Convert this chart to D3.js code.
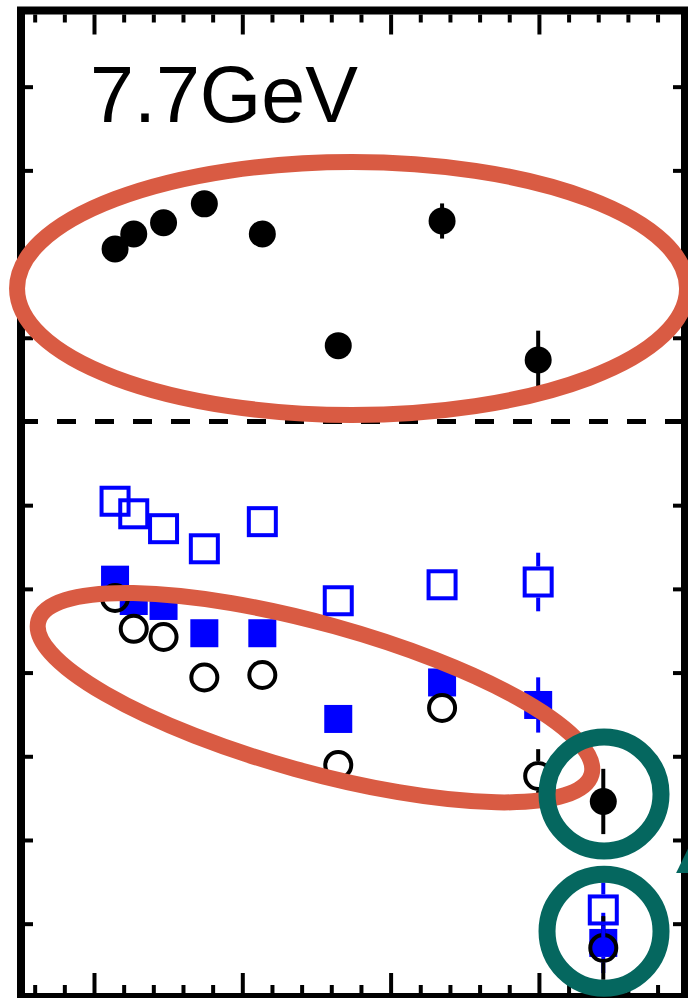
<!DOCTYPE html>
<html>
<head>
<meta charset="utf-8">
<script src="https://cdn.jsdelivr.net/npm/d3@7"></script>
<style>
  html, body { margin: 0; padding: 0; background: #fff; }
  svg { display: block; }
</style>
</head>
<body>
<div id="chart"></div>
<script>
// x positions of the 9 measurements (axis units, one major tick = 1)
const xPos = [0.142, 0.268, 0.469, 0.744, 1.135, 1.647, 2.347, 2.995, 3.434];

// four series
const filledCircle    = [2.06, 2.24, 2.375, 2.60, 2.24, 0.906, 2.395, 0.735, -4.54];
const filledCircleErr = [0, 0, 0, 0, 0, 0, 0.21, 0.35, 0.39];
const openSquare      = [-0.953, -1.103, -1.281, -1.521, -1.197, -2.142, -1.951, -1.918, -5.836];
const openSquareErr   = [0, 0, 0, 0, 0, 0, 0, 0.35, 0.33];
const filledSquare    = [-1.89, -2.145, -2.204, -2.53, -2.53, -3.554, -3.118, -3.387, -6.23];
const filledSquareErr = [0, 0, 0, 0, 0, 0, 0, 0.33, 0.36];
const openCircle      = [-2.109, -2.477, -2.575, -3.059, -3.029, -4.104, -3.423, -4.235, -6.29];
const openCircleErr   = [0, 0, 0, 0, 0, 0, 0, 0.32, 0.38];

// axis ticks
const xMajor = [0, 1, 2, 3];
const xMinor = d3.range(-0.4, 3.9, 0.2).filter(v => Math.abs(v - Math.round(v)) > 0.01);
const yTicks = d3.range(-6, 5, 1);

const label = '7.7GeV';

const width = 688, height = 998;
const frame = { left: 21, top: 10.5, right: 685, bottom: 997, stroke: 8 };

const svg = d3.select('#chart').append('svg')
    .attr('width', width)
    .attr('height', height);

const x = d3.scaleLinear()
    .domain([-0.4922, 3.985])
    .range([frame.left, frame.right]);

const y = d3.scaleLinear()
    .domain([-6.876, 4.910])
    .range([frame.bottom, frame.top]);

const half = frame.stroke / 2;

// zero line
svg.append('line')
    .attr('x1', frame.left + half).attr('x2', frame.right - half)
    .attr('y1', y(0)).attr('y2', y(0))
    .attr('stroke', '#000')
    .attr('stroke-width', 5)
    .attr('stroke-dasharray', '19,19')
    .attr('stroke-dashoffset', -32);

// ticks, all pointing inward
function ticks(axis, transform) {
    const g = svg.append('g').attr('transform', transform).call(axis);
    g.select('.domain').remove();
    g.selectAll('line').attr('stroke', '#000').attr('stroke-width', 4);
    return g;
}
ticks(d3.axisTop(x).tickValues(xMajor).tickSize(-20).tickFormat(''), `translate(0,${frame.top + half})`);
ticks(d3.axisTop(x).tickValues(xMinor).tickSize(-8).tickFormat(''), `translate(0,${frame.top + half})`);
ticks(d3.axisBottom(x).tickValues(xMajor).tickSize(-20).tickFormat(''), `translate(0,${frame.bottom - half})`);
ticks(d3.axisBottom(x).tickValues(xMinor).tickSize(-8).tickFormat(''), `translate(0,${frame.bottom - half})`);
ticks(d3.axisLeft(y).tickValues(yTicks).tickSize(-8).tickFormat(''), `translate(${frame.left + half},0)`);
ticks(d3.axisRight(y).tickValues(yTicks).tickSize(-8).tickFormat(''), `translate(${frame.right - half},0)`);

// frame
svg.append('rect')
    .attr('x', frame.left).attr('y', frame.top)
    .attr('width', frame.right - frame.left)
    .attr('height', frame.bottom - frame.top)
    .attr('fill', 'none')
    .attr('stroke', '#000')
    .attr('stroke-width', frame.stroke);

svg.append('text')
    .attr('x', 90).attr('y', 122)
    .attr('font-family', '"Liberation Sans", Arial, Helvetica, sans-serif')
    .attr('font-size', 79)
    .attr('fill', '#000')
    .text(label);

// error bars stop at the marker edge
function errorBars(vals, errs, gap, color) {
    const rows = xPos.map((xv, i) => ({ xv, v: vals[i], e: errs[i] })).filter(d => d.e > 0);
    const g = svg.append('g').attr('stroke', color).attr('stroke-width', 4);
    g.selectAll('.up').data(rows).enter().append('line')
        .attr('x1', d => x(d.xv)).attr('x2', d => x(d.xv))
        .attr('y1', d => y(d.v + d.e)).attr('y2', d => y(d.v) - gap);
    g.selectAll('.down').data(rows).enter().append('line')
        .attr('x1', d => x(d.xv)).attr('x2', d => x(d.xv))
        .attr('y1', d => y(d.v) + gap).attr('y2', d => y(d.v - d.e));
}

const blue = '#0000ff';

// filled blue squares
errorBars(filledSquare, filledSquareErr, 14, blue);
svg.append('g').selectAll('rect').data(filledSquare).enter().append('rect')
    .attr('x', (d, i) => x(xPos[i]) - 14)
    .attr('y', d => y(d) - 14)
    .attr('width', 28).attr('height', 28)
    .attr('fill', blue);

// open black circles
errorBars(openCircle, openCircleErr, 15, '#000');
svg.append('g').selectAll('circle').data(openCircle).enter().append('circle')
    .attr('cx', (d, i) => x(xPos[i]))
    .attr('cy', d => y(d))
    .attr('r', 13)
    .attr('fill', 'none')
    .attr('stroke', '#000')
    .attr('stroke-width', 4);

// open blue squares
errorBars(openSquare, openSquareErr, 15.5, blue);
svg.append('g').selectAll('rect').data(openSquare).enter().append('rect')
    .attr('x', (d, i) => x(xPos[i]) - 13.5)
    .attr('y', d => y(d) - 13.5)
    .attr('width', 27).attr('height', 27)
    .attr('fill', 'none')
    .attr('stroke', blue)
    .attr('stroke-width', 4);

// filled black circles
errorBars(filledCircle, filledCircleErr, 0, '#000');
svg.append('g').selectAll('circle').data(filledCircle).enter().append('circle')
    .attr('cx', (d, i) => x(xPos[i]))
    .attr('cy', d => y(d))
    .attr('r', 13.5)
    .attr('fill', '#000');

// hand-drawn highlight marks on top
const red = '#d95b43';
const teal = '#05675f';

const redEllipses = [
    { cx: 1.74, cy: 1.589, rx: 335, ry: 126.5, angle: 0 },
    { cx: 1.49, cy: -3.30, rx: 287, ry: 74, angle: 15.5 }
];
svg.append('g').selectAll('ellipse').data(redEllipses).enter().append('ellipse')
    .attr('transform', d => `translate(${x(d.cx)},${y(d.cy)}) rotate(${d.angle})`)
    .attr('rx', d => d.rx).attr('ry', d => d.ry)
    .attr('fill', 'none')
    .attr('stroke', red)
    .attr('stroke-width', 16);

const tealRings = [
    { cx: 3.439, cy: -4.45 },
    { cx: 3.439, cy: -6.09 }
];
svg.append('g').selectAll('circle').data(tealRings).enter().append('circle')
    .attr('cx', d => x(d.cx)).attr('cy', d => y(d.cy))
    .attr('r', 57)
    .attr('fill', 'none')
    .attr('stroke', teal)
    .attr('stroke-width', 17);

// tip of a teal arrow poking in at the right edge
const arrowTip = [[3.925, -5.394], [4.02, -5.05], [4.02, -5.394]];
svg.append('polygon')
    .attr('points', arrowTip.map(p => [x(p[0]), y(p[1])].join(',')).join(' '))
    .attr('fill', teal);
</script>
</body>
</html>
